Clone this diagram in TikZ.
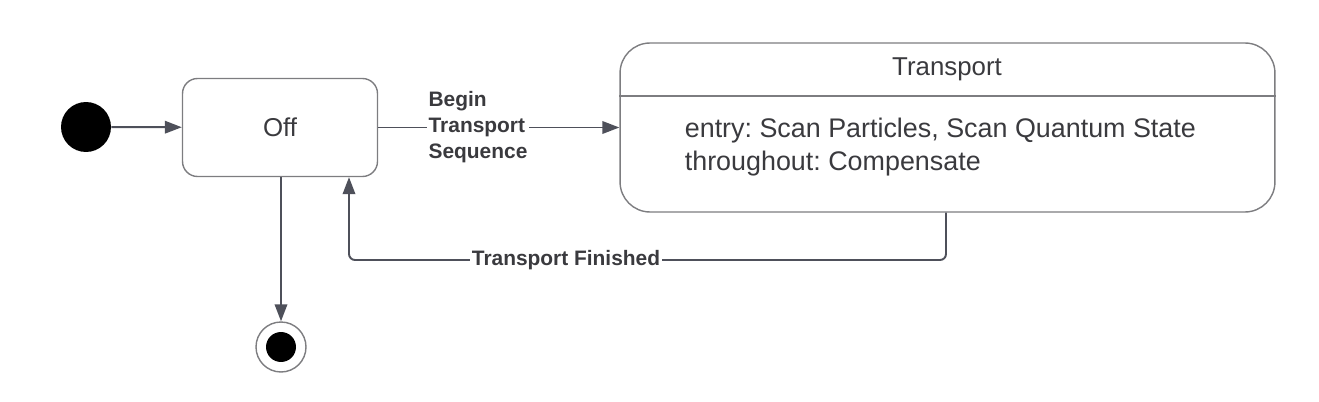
\documentclass[tikz,border=0pt]{standalone}
\usepackage{fontspec}
\setmainfont{Liberation Sans}
\usetikzlibrary{arrows.meta}
\definecolor{linegray}{RGB}{78,80,90}
\definecolor{boxgray}{RGB}{125,125,128}
\definecolor{txtgray}{RGB}{58,58,62}
\newcommand{\lblfont}{\fontsize{11.9}{14.7}\selectfont\bfseries}
\newcommand{\stfont}{\fontsize{14.7}{19}\selectfont}
\newcommand{\actfont}{\fontsize{15.3}{18.8}\selectfont}
\frenchspacing

\begin{document}
\begin{tikzpicture}[x=0.02cm,y=-0.02cm,every node/.style={inner sep=2pt,text=txtgray},
  st/.style={draw=boxgray,line width=0.8pt,font=\stfont},
  conn/.style={draw=linegray,line width=1.1pt,-{Triangle[length=0.34cm,width=0.25cm]}},
  lbl/.style={fill=white,font=\lblfont,align=left,inner sep=1pt}]
  \useasboundingbox (0,0) rectangle (1319,402);
  \node (init) [circle,fill=black,inner sep=0pt,minimum size=1cm] at (86,127) {};
  \node (off) [st,rounded corners=0.3cm,minimum width=3.9cm,minimum height=1.96cm] at (280,127.5) {Off};
  \node (trans) [st,rounded corners=0.6cm,minimum width=13.1cm,minimum height=3.38cm] at (947.5,127.5) {};
  \node (ttl) [font=\stfont] at (947,69) {Transport};
  \node (act) [font=\actfont,align=left,anchor=west] at (681,147.5) {entry: Scan Particles, Scan Quantum State\\throughout: Compensate};
  \node (fin) [circle,draw=boxgray,line width=0.8pt,inner sep=0pt,minimum size=1cm] at (281,347) {};
  \node (fdot) [circle,fill=black,inner sep=0pt,minimum size=0.6cm] at (fin) {};
  \coordinate (r1) at (946,260);
  \coordinate (r2) at (349,260);
  \draw[draw=boxgray,line width=0.8pt] (trans.west |- 0,96) -- (trans.east |- 0,96);
  \draw[conn] (init) -- (off);
  \draw[conn] (off) -- (trans);
  \draw[conn] (off.south -| fin) -- (fin);
  \draw[conn,rounded corners=0.12cm] (trans.south -| r1) -- (r1) -- (r2) -- (off.south -| r2);
  \node (ev) [lbl] at (478,127) {Begin\\Transport\\Sequence};
  \node (tf) [lbl] at (566,260) {Transport Finished};
\end{tikzpicture}
\end{document}
